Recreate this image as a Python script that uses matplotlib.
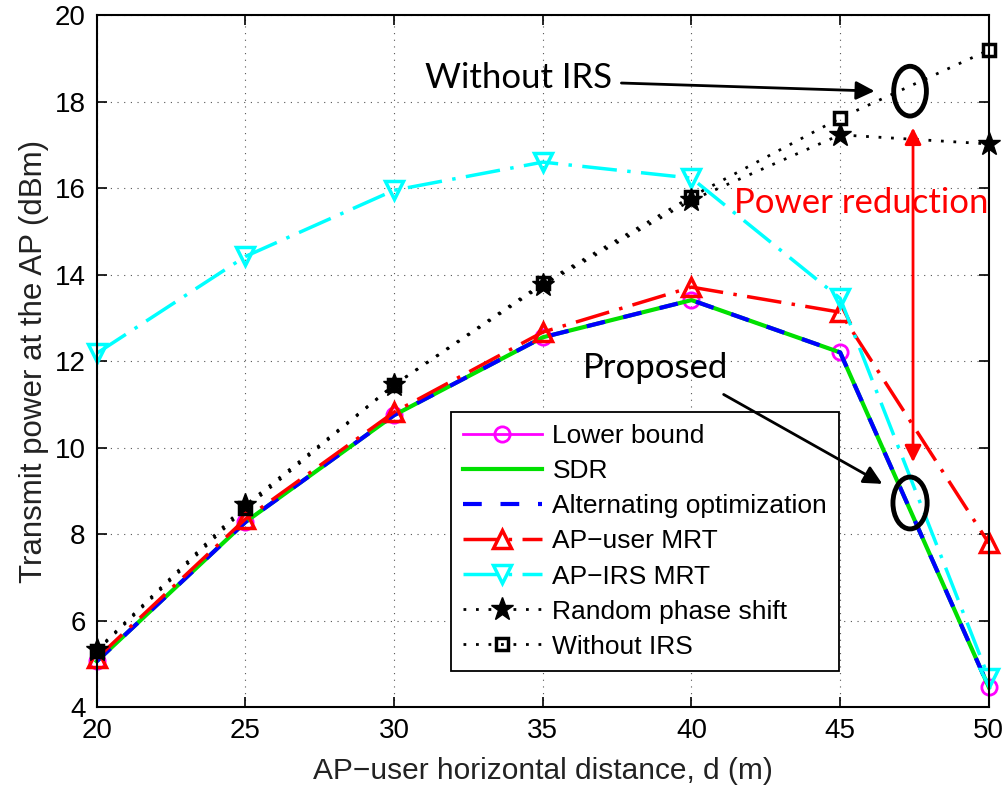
import numpy as np
import matplotlib.pyplot as plt
from matplotlib.patches import Ellipse

# distance axis and the power curves (dBm)
dist = [20, 25, 30, 35, 40, 45, 50]
lower_bound = [5.06, 8.28, 10.75, 12.55, 13.41, 12.2, 4.46]
sdr = [5.06, 8.28, 10.75, 12.55, 13.41, 12.2, 4.46]
alt_opt = [5.06, 8.28, 10.75, 12.55, 13.41, 12.2, 4.46]
ap_user_mrt = [5.13, 8.35, 10.82, 12.67, 13.71, 13.13, 7.79]
ap_irs_mrt = [12.18, 14.42, 15.95, 16.6, 16.23, 13.45, 4.67]
random_phase = [5.32, 8.67, 11.45, 13.76, 15.72, 17.23, 17.02]
without_irs = [5.3, 8.6, 11.45, 13.8, 15.8, 17.62, 19.19]

xticks = [20, 25, 30, 35, 40, 45, 50]
yticks = [4, 6, 8, 10, 12, 14, 16, 18, 20]

plt.rcParams['font.family'] = ['Liberation Sans', 'DejaVu Sans']

fig = plt.figure(figsize=(10.08, 7.91), dpi=100)
ax = fig.add_axes([0.096, 0.106, 0.885, 0.875])

dashdot = (10, 3, 1, 3)
dotted = (1, 3.5)
ax.plot(dist, lower_bound, '-', color='magenta', lw=2, marker='o', ms=11,
        mfc='none', mew=2, label='Lower bound', clip_on=False)
ax.plot(dist, sdr, '-', color='#00e000', lw=3, label='SDR', clip_on=False)
ax.plot(dist, alt_opt, '--', color='blue', lw=3, dashes=(4.5, 4.5),
        label='Alternating optimization', clip_on=False)
ax.plot(dist, ap_user_mrt, '-.', color='red', lw=2.5, dashes=dashdot, marker='^', ms=13,
        mfc='none', mew=2.5, label='AP\u2212user MRT', clip_on=False)
ax.plot(dist, ap_irs_mrt, '-.', color='cyan', lw=2.5, dashes=dashdot, marker='v', ms=13,
        mfc='none', mew=2.5, label='AP\u2212IRS MRT', clip_on=False)
ax.plot(dist, random_phase, ':', color='black', lw=2, dashes=dotted, marker='*', ms=17,
        mfc='black', label='Random phase shift', clip_on=False)
ax.plot(dist, without_irs, ':', color='black', lw=2, dashes=dotted, marker='s', ms=8,
        mfc='none', mew=2.5, label='Without IRS', clip_on=False)

ax.set_xlim(20, 50)
ax.set_ylim(4, 20)
ax.set_xticks(xticks)
ax.set_yticks(yticks)
ax.grid(True, linestyle=(0, (1, 5)), color='#555555', lw=0.8)
ax.tick_params(direction='in', length=7, width=1.2, top=True, right=True,
               labelsize=20, pad=8)
for s in ax.spines.values():
    s.set_linewidth(1.5)

ax.set_xlabel('AP\u2212user horizontal distance, d (m)', fontsize=21.5, color='#222222', labelpad=9)
ax.set_ylabel('Transmit power at the AP (dBm)', fontsize=22.5, color='#222222', labelpad=4)

leg = ax.legend(loc='upper right', bbox_to_anchor=(0.832, 0.426), borderaxespad=0,
                fontsize=19, handlelength=3.0, handletextpad=0.4, labelspacing=0.42,
                borderpad=0.45, fancybox=False, framealpha=1, edgecolor='black')
leg.get_frame().set_linewidth(1.3)

# annotations
afont = ['Lato', 'DejaVu Sans']
ax.text(34.2, 18.54, 'Without IRS', fontsize=25, family=afont, ha='center', va='center')
ax.annotate('', xy=(46.25, 18.24), xytext=(37.55, 18.43), zorder=8,
            arrowprops=dict(arrowstyle='-|>', color='black', lw=2, mutation_scale=28))
ax.add_patch(Ellipse((47.35, 18.24), 1.1, 1.15, fill=False, ec='black', lw=3.5, zorder=8))

ax.text(45.7, 15.65, 'Power reduction', fontsize=25, family=afont, color='red',
        ha='center', va='center')
ax.annotate('', xy=(47.45, 17.46), xytext=(47.45, 9.6), zorder=8,
            arrowprops=dict(arrowstyle='<|-|>', color='red', lw=2, mutation_scale=25))

ax.text(38.8, 11.84, 'Proposed', fontsize=25, family=afont, ha='center', va='center')
ax.annotate('', xy=(46.5, 9.13), xytext=(41.0, 11.26), zorder=8,
            arrowprops=dict(arrowstyle='-|>', color='black', lw=2, mutation_scale=28))
ax.add_patch(Ellipse((47.35, 8.72), 1.15, 1.2, fill=False, ec='black', lw=3.5, zorder=8))

fig.savefig('out.png', dpi=100)
